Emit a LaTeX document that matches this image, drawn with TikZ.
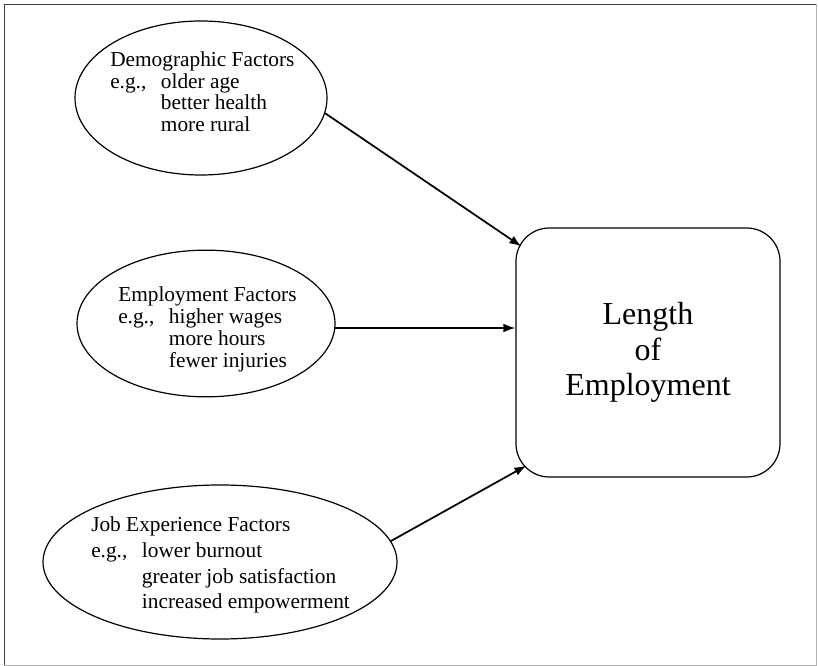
\documentclass[tikz,border=0pt]{standalone}
\usepackage{fontspec}
\setmainfont{Liberation Serif}
\usepackage{tikz}
\usetikzlibrary{shapes.geometric}
\usetikzlibrary{arrows.meta,calc}

\tikzset{
  factor/.style={draw,ellipse,line width=0.9pt,inner sep=0pt},
  factor text/.style={align=left,inner sep=0pt,anchor=base west},
  outcome/.style={draw,rectangle,rounded corners=25pt,line width=0.9pt,
    minimum width=198pt,minimum height=186.75pt,align=center,
    font=\fontsize{24}{26.5}\selectfont},
  effect/.style={-{Latex[length=9pt,width=6.5pt]},line width=1.3pt}
}
\newcommand{\eg}{\makebox[38pt][l]{e.g.,}}
\newcommand{\ind}{\hspace*{38pt}}

\begin{document}
\begin{tikzpicture}[x=0.75pt,y=-0.75pt]
  \useasboundingbox (0,0) rectangle (818,666);
  % outer frame
  \draw[black!75,line width=0.7pt] (4,665) -- (4,4) -- (816,4);
  \draw[gray!60,line width=0.7pt] (816,4) -- (816,665) -- (4,665);
  % the three groups of factors
  \node[factor,minimum width=189pt,minimum height=115.5pt] (demo) at (201,98) {};
  \node[factor,minimum width=193.5pt,minimum height=110pt] (empl) at (206,323.5) {};
  \node[factor,minimum width=265.5pt,minimum height=115.5pt] (jobx) at (220,562) {};
  % text is placed by the baseline of its last line
  \node[factor text,font=\fontsize{16}{16.3}\selectfont] (demo-text) at (110,131.7)
    {Demographic Factors\\\eg older age\\\ind better health\\\ind more rural};
  \node[factor text,font=\fontsize{16}{16.5}\selectfont] (empl-text) at (118,368)
    {Employment Factors\\\eg higher wages\\\ind more hours\\\ind fewer injuries};
  \node[factor text,font=\fontsize{16}{19.3}\selectfont] (jobx-text) at (91,609)
    {Job Experience Factors\\\eg lower burnout\\\ind greater job satisfaction\\\ind increased empowerment};
  % outcome
  \node[outcome] (len) at (648,352.5) {Length\\of\\Employment};
  % effects
  \draw[effect] (demo.-7) -- ($(len.north west)+(6,19)$);
  \draw[effect] (empl.-2.4) -- (len.west |- empl.-2.4);
  \draw[effect] (jobx.7.4) -- ($(len.south west)+(11,-12)$);
\end{tikzpicture}
\end{document}
